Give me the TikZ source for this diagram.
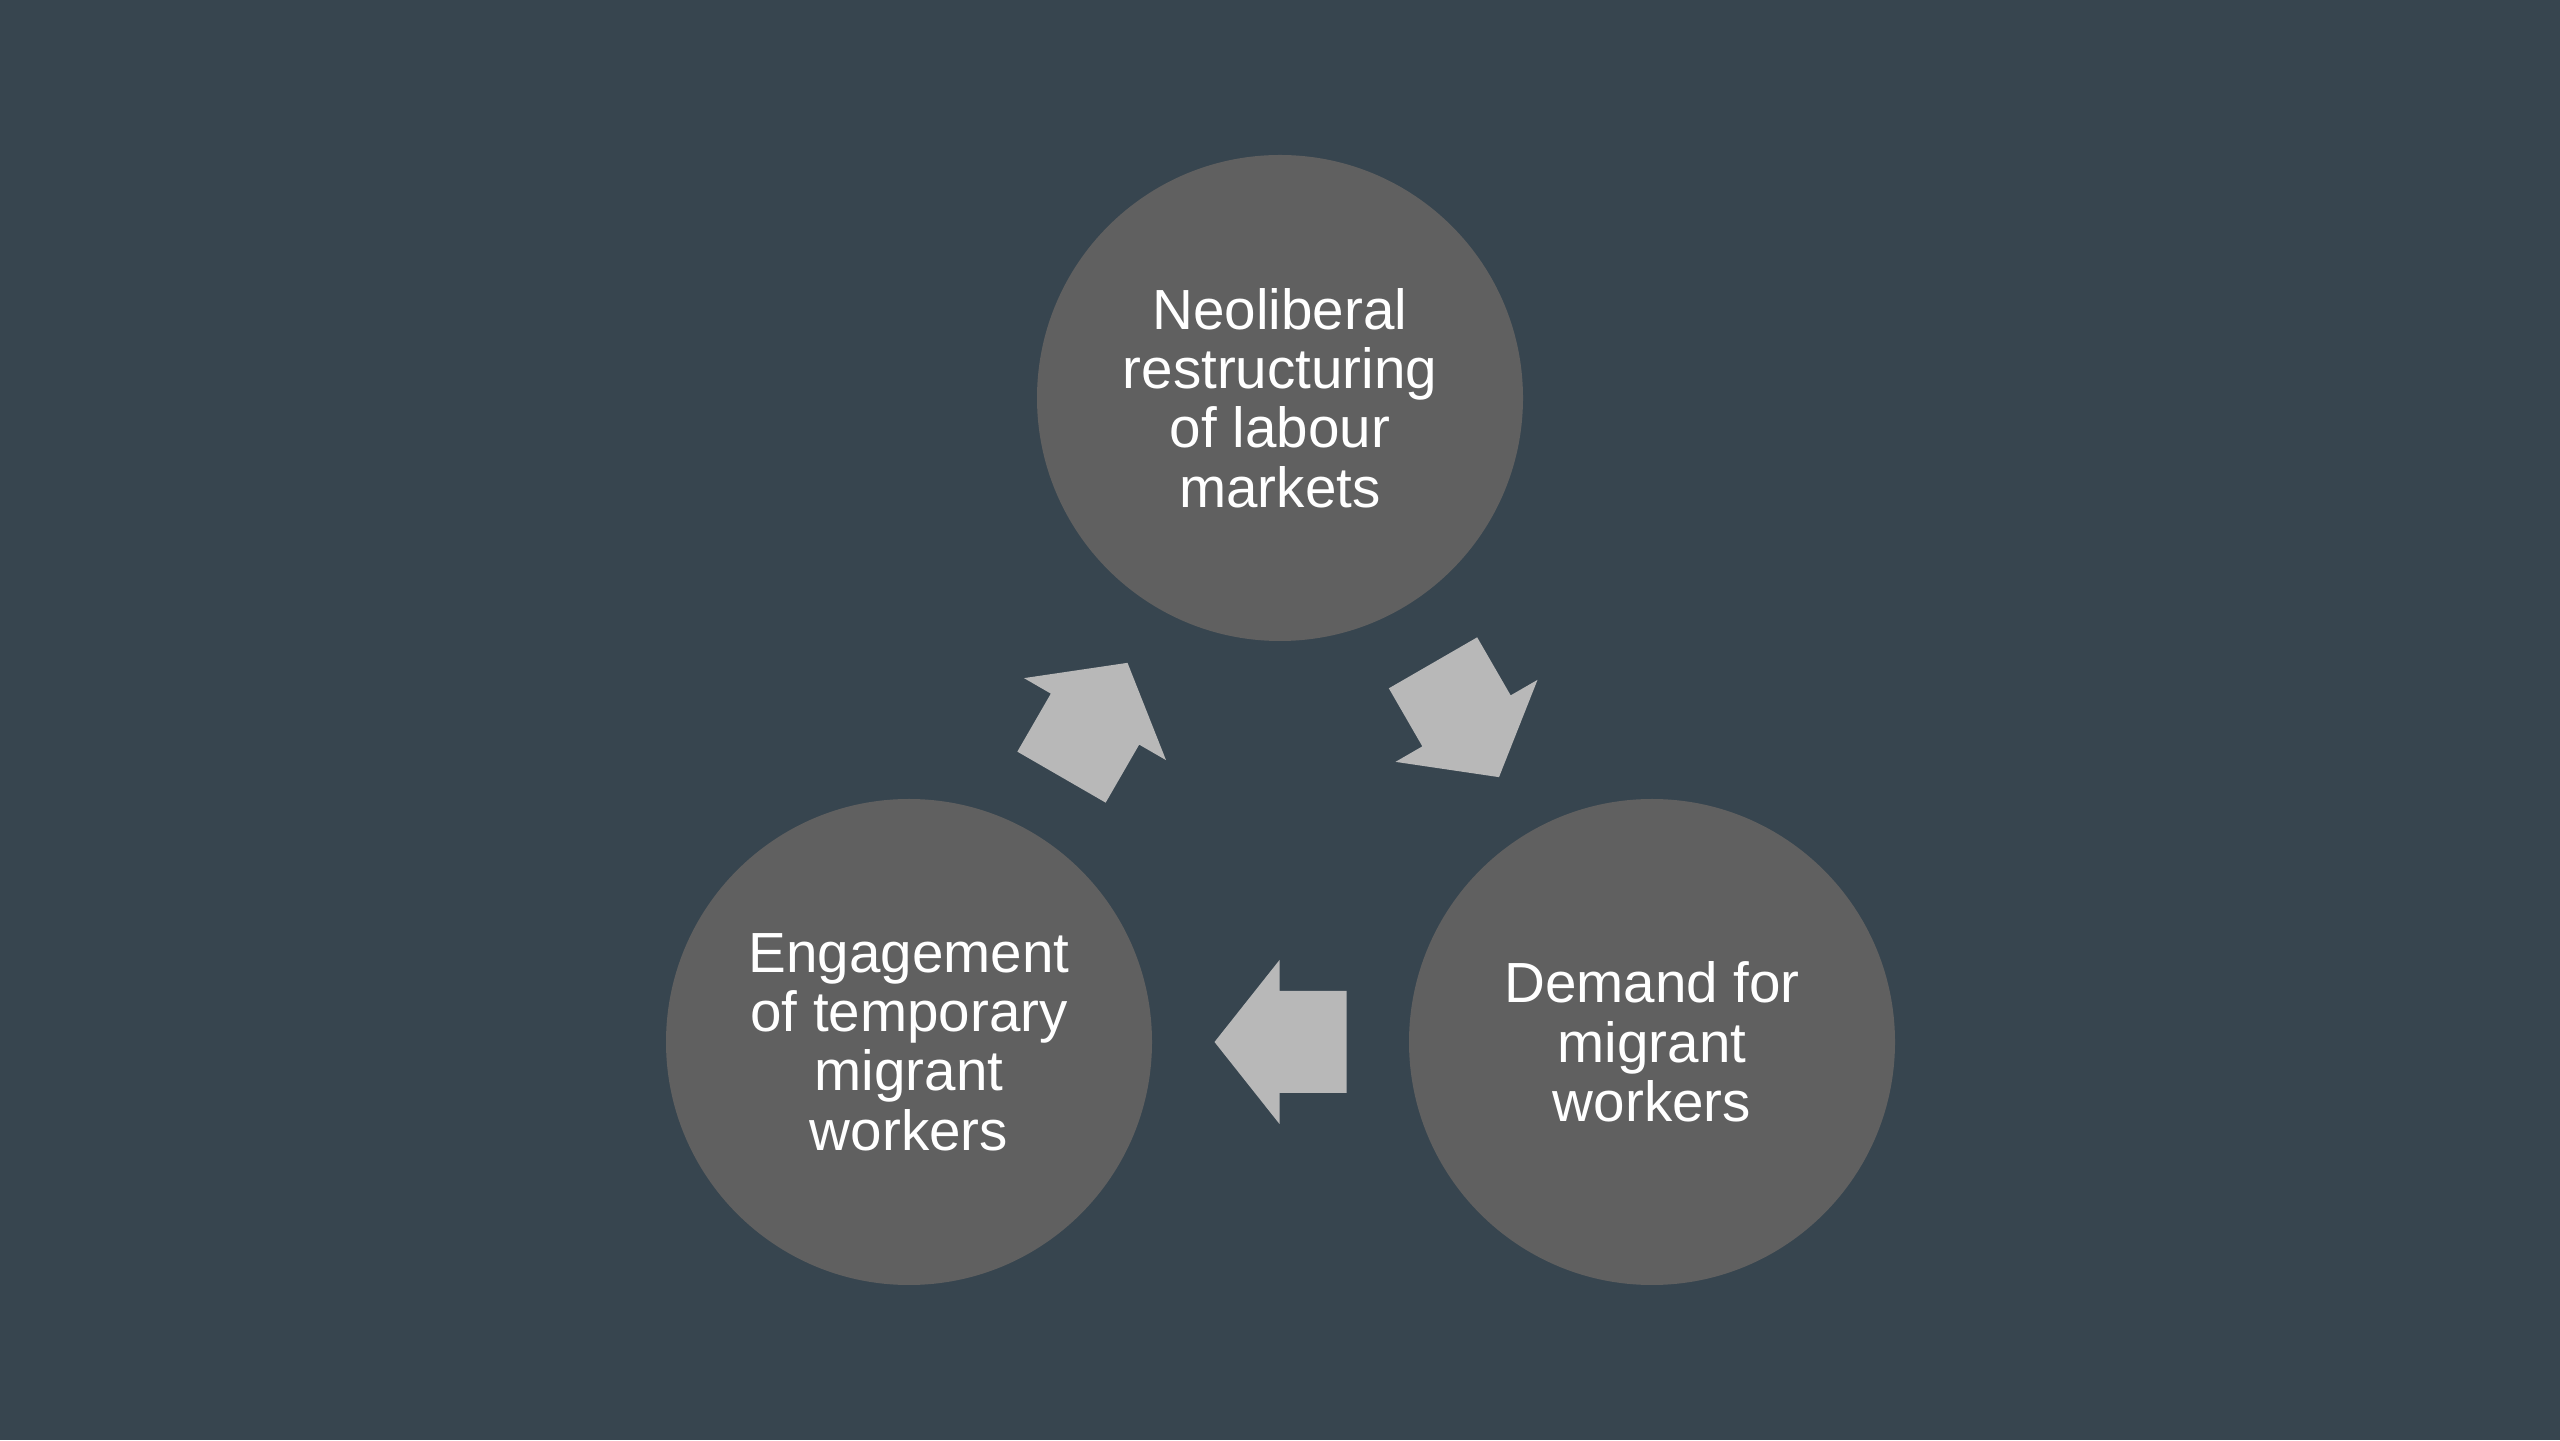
\documentclass[tikz,border=0pt]{standalone}
\usepackage{fontspec}
\setmainfont{Liberation Sans}
\usetikzlibrary{calc}

\definecolor{slidebg}{RGB}{55,69,79}
\definecolor{circlegrey}{RGB}{96,96,96}
\definecolor{arrowgrey}{RGB}{184,184,184}

\begin{document}
\begin{tikzpicture}[x=1cm, y=1cm]
    \tikzstyle{stage}=[circle,fill=circlegrey,minimum size=4.86cm,inner sep=0pt,text=white,align=center,font=\fontsize{16.1}{16.9}\selectfont]
    \tikzstyle{block arrow}=[fill=arrowgrey,draw=none]

    % background of the slide
    \fill[slidebg] (0,0) rectangle (25.6,14.4);
    \useasboundingbox (0,0) rectangle (25.6,14.4);

    % the three stages
    \foreach \m/\x/\y/\t in {top/12.80/10.42/{Neoliberal\\restructuring\\of labour\\markets},
                            right/16.52/3.98/{Demand for\\migrant\\workers},
                            left/9.09/3.98/{Engagement\\of temporary\\migrant\\workers}}
    \node [stage] (stage-\m) at (\x,\y) {\t};

    % Draw the arrows between the stages
    \foreach \a/\b/\r in {top/right/-60, right/left/180, left/top/60}
    \fill [block arrow, shift={($(stage-\a)!0.5!(stage-\b)$)}, rotate=\r]
    (0.66,0) -- (0.01,0.82) -- (0.01,0.51) -- (-0.66,0.51)
    -- (-0.66,-0.51) -- (0.01,-0.51) -- (0.01,-0.82) -- cycle;

\end{tikzpicture}
\end{document}
